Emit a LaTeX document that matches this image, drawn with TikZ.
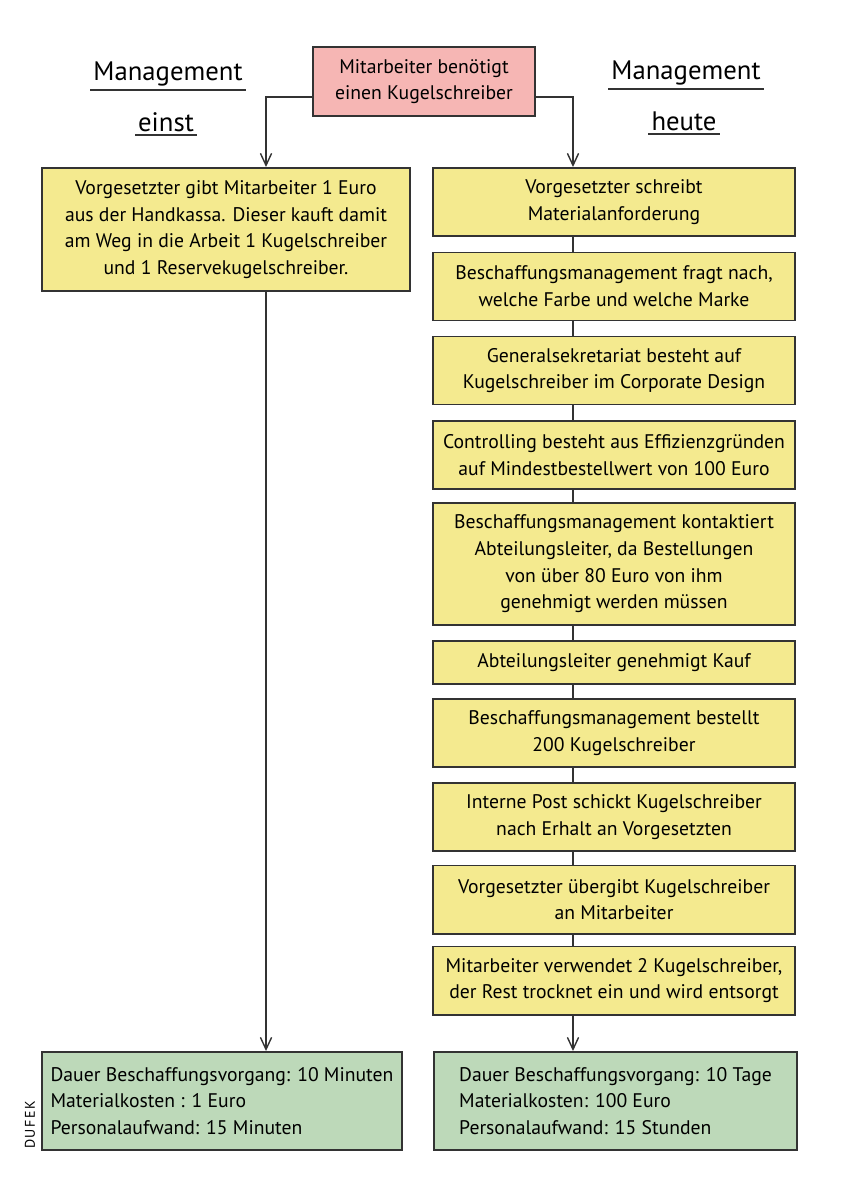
\documentclass[tikz,border=0pt]{standalone}
\usepackage{fontspec}
\setmainfont{PT Sans}
\usetikzlibrary{arrows.meta}

\definecolor{strich}{HTML}{333333}
\definecolor{rosa}{HTML}{F6B6B4}
\definecolor{gelb}{HTML}{F4EA8F}
\definecolor{gruen}{HTML}{BDD9B9}

\begin{document}
\begin{tikzpicture}[x=0.025cm,y=-0.025cm,
    kasten/.style={draw=strich,line width=1.4pt,inner sep=2pt,align=center,
      font=\fontsize{14}{19}\selectfont},
    kopf/.style={inner sep=2pt,font=\fontsize{19}{23}\selectfont},
    pfeil/.style={draw=strich,line width=1pt,-{Straight Barb[length=3mm,width=2.8mm]}},
    linie/.style={draw=strich,line width=1pt}]

      \useasboundingbox (0,0) rectangle (842,1200);

      % Ueberschriften
      \node[kopf,anchor=base] (ml) at (168,81)  {Management};
      \node[kopf,anchor=base] (el) at (166,132) {einst};
      \node[kopf,anchor=base] (mr) at (686,80)  {Management};
      \node[kopf,anchor=base] (hr) at (684,131) {heute};
      \foreach \k in {ml,el,mr,hr}
        \draw[strich,line width=1.3pt] (\k.south west) -- (\k.south east);

      \node[kasten,fill=rosa,minimum width=5.55cm,minimum height=1.725cm] (start) at (424,81.5)
        {Mitarbeiter benötigt\\einen Kugelschreiber};

      % Management einst
      \begin{scope}[every node/.style={kasten,fill=gelb,minimum width=9.2cm}]
        \node[minimum height=3.075cm] (e1) at (226,229.5)
          {Vorgesetzter gibt Mitarbeiter 1 Euro\\aus der Handkassa. Dieser kauft damit\\am Weg in die Arbeit 1 Kugelschreiber\\und 1 Reservekugelschreiber.};
      \end{scope}

      % Management heute
      \begin{scope}[every node/.style={kasten,fill=gelb,minimum width=9.05cm,minimum height=1.7cm}]
        \node (h1)  at (614,202)   {Vorgesetzter schreibt\\Materialanforderung};
        \node (h2)  at (614,286.5) {Beschaffungsmanagement fragt nach,\\welche Farbe und welche Marke};
        \node (h3)  at (614,370.5) {Generalsekretariat besteht auf\\Kugelschreiber im Corporate Design};
        \node (h4)  at (614,455)   {Controlling besteht aus Effizienzgründen\\auf Mindestbestellwert von 100 Euro};
        \node[minimum height=3.05cm] (h5) at (614,564)
          {Beschaffungsmanagement kontaktiert\\Abteilungsleiter, da Bestellungen\\von über 80 Euro von ihm\\genehmigt werden müssen};
        \node[minimum height=1.075cm] (h6) at (614,662.5) {Abteilungsleiter genehmigt Kauf};
        \node (h7)  at (614,733)   {Beschaffungsmanagement bestellt\\200 Kugelschreiber};
        \node (h8)  at (614,817)   {Interne Post schickt Kugelschreiber\\nach Erhalt an Vorgesetzten};
        \node (h9)  at (614,899.5) {Vorgesetzter übergibt Kugelschreiber\\an Mitarbeiter};
        \node (h10) at (614,980.5) {Mitarbeiter verwendet 2 Kugelschreiber,\\der Rest trocknet ein und wird entsorgt};
      \end{scope}

      % Ergebnis
      \begin{scope}[every node/.style={kasten,fill=gruen,align=left,minimum height=2.45cm}]
        \node[minimum width=9cm] (eg) at (222,1101)
          {Dauer Beschaffungsvorgang: 10 Minuten\\Materialkosten : 1 Euro\\Personalaufwand: 15 Minuten};
        \node[minimum width=9.075cm] (hg) at (615.5,1101)
          {Dauer Beschaffungsvorgang: 10 Tage\\Materialkosten: 100 Euro\\Personalaufwand: 15 Stunden};
      \end{scope}

      \node[rotate=90,inner sep=0pt,font=\fontsize{10}{10}\selectfont] (sig) at (30,1125) {D\kern1pt U\kern1pt F\kern1pt E\kern1pt K};

      % Verbindungen
      \draw[pfeil] ([yshift=-0.39cm]start.west) -| ([xshift=1cm]e1.north);
      \draw[pfeil] ([yshift=-0.39cm]start.east) -| ([xshift=-1.025cm]h1.north);
      \draw[pfeil] ([xshift=1cm]e1.south) -- ([xshift=1cm]e1.south |- eg.north);
      \foreach \a/\b in {h1/h2,h2/h3,h3/h4,h4/h5,h5/h6,h6/h7,h7/h8,h8/h9,h9/h10}
        \draw[linie] ([xshift=-1.025cm]\a.south) -- ([xshift=-1.025cm]\a.south |- \b.north);
      \draw[pfeil] ([xshift=-1.025cm]h10.south) -- ([xshift=-1.025cm]h10.south |- hg.north);

    \end{tikzpicture}
\end{document}
